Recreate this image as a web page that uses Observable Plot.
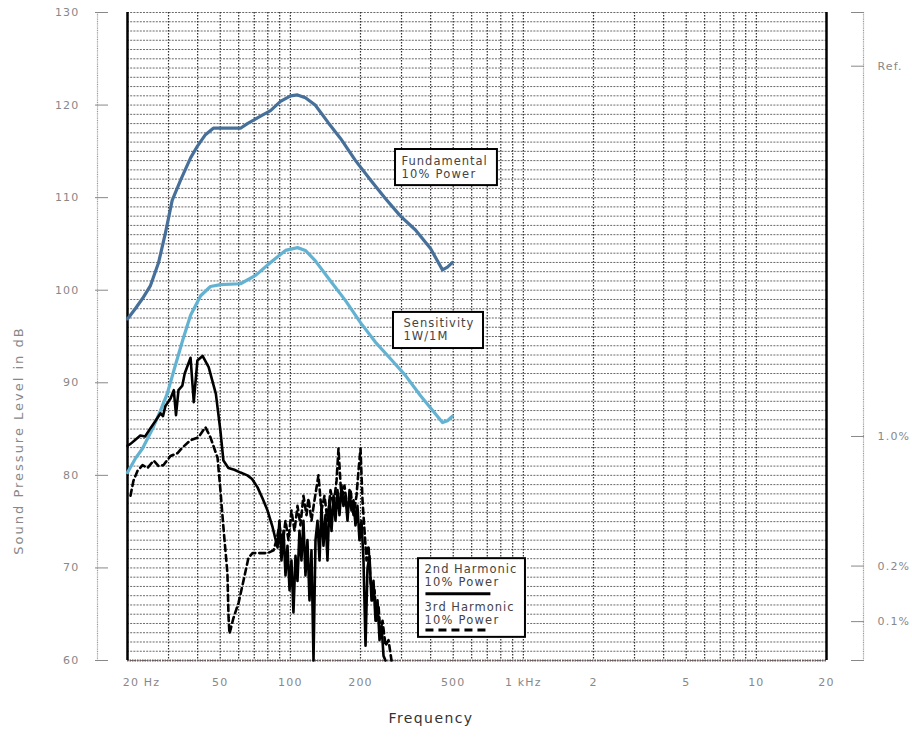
<!DOCTYPE html>
<html><head><meta charset="utf-8">
<script src="https://cdn.jsdelivr.net/npm/d3@7"></script>
<script src="https://cdn.jsdelivr.net/npm/@observablehq/plot@0.6"></script>
<style>body{margin:0;background:#fff;}</style>
</head><body><div id="chart"></div>
<script>
// ---- data (Hz, dB SPL) ----
const fundFreq = [20,21.6,23.2,25.1,27.2,29.1,31.1,33.8,37.3,40.0,43.2,46.7,52.6,61.1,65.4,74.5,82.2,90.7,100.2,107.3,116.0,127.8,145.4,164.2,190.4,220.8,255.7,297,344.4,399.6,449.7,472.4,496.3];
const fundDb   = [96.9,98.0,99.1,100.5,103.0,106.2,109.7,111.9,114.3,115.6,116.8,117.5,117.5,117.5,118.0,118.8,119.4,120.4,121.0,121.1,120.8,120.0,118.1,116.4,114.0,111.9,109.9,108.0,106.5,104.5,102.2,102.5,103.0];

const sensFreq = [20,21.6,23.2,25.8,27.7,29.6,32.1,34.5,37.3,41.2,45.4,50.1,61.1,70.9,82.2,95.3,107.3,116.0,127.8,148.7,172.2,200,231.6,269,311.6,362,408,449.7,472.4,496.3];
const sensDb   = [80.3,81.8,82.9,85.2,87.0,88.8,91.9,94.6,97.3,99.4,100.4,100.6,100.7,101.6,103.0,104.3,104.6,104.3,103.2,101.0,98.9,96.5,94.4,92.6,90.8,88.6,87.0,85.7,85.9,86.4];

const h2Freq = [20,20.6,21.5,22.7,23.8,25.1,26.4,27.7,28.4,29.1,30.6,31.6,32.3,33.1,34.4,35.2,37.3,38.5,39.9,42.0,44.6,47.9,50.1,51.6,54.2,57.5,61.1,65.4,68.5,72.3,76.0,79.8,83.9,88.1,
  89.8,91.6,93.5,95.3,97.2,99.2,101.1,103.1,105.2,107.3,109.4,111.6,113.8,116.1,118.4,120.8,123.2,125.7,128.2,130.8,133.4,136.0,138.7,141.5,144.3,147.2,150.2,153.2,156.2,159.3,162.5,165.8,169.0,172.4,175.9,179.4,183.0,186.7,190.3,194.1,198.0,202.0,206.0,210.2,214.3,218.6,223.0,227.4,232.0,236.6,241.4,246.2,251.1,256.1];
const h2Db   = [83.2,83.4,83.8,84.3,84.2,85.1,85.9,86.7,86.4,87.5,88.3,89.2,86.5,89.2,89.7,91.0,92.7,87.9,92.4,92.9,91.7,88.8,84.8,81.6,80.8,80.6,80.3,80.0,79.6,78.7,77.5,76.2,74.4,72.2,
  75.1,70.8,74.0,69.2,72.4,67.6,70.8,65.2,71.3,68.6,74.0,70.8,75.1,69.2,73.0,66.5,71.9,60.0,73.0,75.1,70.8,76.7,72.4,75.7,70.8,77.3,74.0,77.8,75.1,78.4,75.7,78.9,76.7,77.8,75.1,78.4,76.2,77.3,74.6,76.7,73.0,75.1,70.8,61.6,70.0,71.3,66.5,68.6,64.3,66.5,62.2,63.8,60.5,60.0];

const h3Freq = [20.6,21.2,22.1,23.2,24.4,25.9,27.2,28.5,30.6,32.8,34.4,37.3,40.3,43.2,45.4,48.7,50.1,51.6,53.7,54.3,54.8,57.0,59.9,62.9,66.1,68.8,74.5,79.8,
  84.7,87.2,89.8,92.5,95.3,98.2,101.1,104.2,107.3,110.5,113.8,117.3,119.6,123.2,126.9,132.0,136.0,140.1,144.3,148.7,153.2,157.8,160.9,165.8,170.7,175.9,181.2,186.7,192.2,196.1,200,204.0,208.1,212.3,216.5,220.8,225.2,229.7,234.3,239.0,243.8,248.6,256.1,263.8,271.7];
const h3Db   = [77.8,79.4,80.5,81.1,80.8,81.6,81.0,81.1,82.1,82.4,83.0,83.8,84.1,85.2,84.1,81.9,78.4,74.4,69.4,64.6,62.9,64.6,66.2,68.6,71.1,71.6,71.6,71.6,
  71.9,73.0,74.6,72.4,75.1,73.0,76.2,74.0,76.7,74.6,77.8,75.7,77.5,75.1,77.3,80.0,76.2,77.8,75.1,78.4,76.7,79.4,82.9,77.3,78.9,76.2,78.4,75.7,77.8,80.5,82.9,77.3,74.0,70.8,72.4,68.6,66.5,67.6,64.3,65.9,62.7,64.3,61.6,62.2,60.0];

// ---- ticks ----
const xGridTicks = [20,30,40,50,60,70,80,90,100,200,300,400,500,600,700,800,900,1000,2000,3000,4000,5000,6000,7000,8000,9000,10000];
const yGridTicks = d3.range(60, 131, 1);
const xLabelTicks = [20,50,100,200,500,1000,2000,5000,10000,20000];
const xLabelText  = ["20 Hz","50","100","200","500","1 kHz","2","5","10","20"];
const yLabelTicks = [60,70,80,90,100,110,120,130];
const refTicks  = [130,124.2,84.2,70.2,64.2,60];
const refLabels = ["","Ref.","1.0%","0.2%","0.1%",""];

// ---- annotation boxes (legend-like labels) ----
const boxes = [
  {x1:282.7, x2:774, y1:111.3, y2:115.2},
  {x1:277.1, x2:674.5, y1:93.7, y2:97.6},
  {x1:354.8, x2:1021, y1:62.5, y2:71.0}
];
const boxText = [
  {x:300, y:113.9, t:"Fundamental"},
  {x:300, y:112.5, t:"10% Power"},
  {x:306, y:96.4, t:"Sensitivity"},
  {x:306, y:95.0, t:"1W/1M"},
  {x:376.6, y:69.9, t:"2nd Harmonic"},
  {x:376.6, y:68.4, t:"10% Power"},
  {x:376.6, y:65.7, t:"3rd Harmonic"},
  {x:376.6, y:64.3, t:"10% Power"}
];
const samples = [
  {x1:380, x2:722, y:67.2, dash:null},
  {x1:380, x2:722, y:63.3, dash:"8,5"}
];

const zipXY = (fs, ds) => fs.map((f, i) => ({f, db: ds[i]}));
const fund = zipXY(fundFreq, fundDb);
const sens = zipXY(sensFreq, sensDb);
const h2 = zipXY(h2Freq, h2Db);
const h3 = zipXY(h3Freq, h3Db);
const refMap = new Map(refTicks.map((t, i) => [t, refLabels[i]]));
const xLabels = xLabelTicks.map((t, i) => ({f: t, label: xLabelText[i], first: i === 0}));

const chart = Plot.plot({
  width: 912, height: 737,
  marginLeft: 127, marginRight: 86, marginTop: 12, marginBottom: 77,
  style: {fontFamily: "DejaVu Sans", background: "white", color: "#222"},
  x: {type: "log", domain: [20, 20000], axis: null},
  y: {domain: [60, 130]},
  marks: [
    Plot.ruleY(yGridTicks, {stroke: "#6a6a6a", strokeWidth: 1, strokeDasharray: "2,1.2"}),
    Plot.ruleX(xGridTicks, {stroke: "#2e2e2e", strokeWidth: 1.2, strokeDasharray: "1.6,1.4"}),
    Plot.ruleY([60], {stroke: "#6b5b5b", strokeWidth: 2, strokeDasharray: "1.5,1"}),
    Plot.ruleX([20, 20000], {stroke: "#000", strokeWidth: 2.5}),
    // bracket axis lines
    Plot.ruleX([20], {dx: -30, stroke: "#999", strokeWidth: 1.2, strokeDasharray: "1,0.8"}),
    Plot.ruleX([20000], {dx: 37, stroke: "#999", strokeWidth: 1.2, strokeDasharray: "1,0.8"}),
    // curves
    Plot.line(fund, {x: "f", y: "db", stroke: "#46709a", strokeWidth: 3.2}),
    Plot.line(sens, {x: "f", y: "db", stroke: "#63b2d2", strokeWidth: 3.2}),
    Plot.line(h3, {x: "f", y: "db", stroke: "#000", strokeWidth: 2.6, strokeDasharray: "6,4"}),
    Plot.line(h2, {x: "f", y: "db", stroke: "#000", strokeWidth: 2.6}),
    // annotation boxes
    Plot.rect(boxes, {x1: "x1", x2: "x2", y1: "y1", y2: "y2", fill: "white", stroke: "#000", strokeWidth: 2}),
    Plot.text(boxText, {x: "x", y: "y", text: "t", textAnchor: "start", fontSize: 11.5, fill: "#444"}),
    Plot.link(samples.filter(d => !d.dash), {x1: "x1", x2: "x2", y1: "y", y2: "y", stroke: "#000", strokeWidth: 3}),
    Plot.link(samples.filter(d => d.dash), {x1: "x1", x2: "x2", y1: "y", y2: "y", stroke: "#000", strokeWidth: 3, strokeDasharray: "8,5"}),
    // axes
    Plot.axisY(yLabelTicks, {anchor: "left", tickSize: 13, dx: -19, tickPadding: 16, color: "#888", fontSize: 11, tickFormat: d => String(d)}),
    Plot.axisY(refTicks, {anchor: "right", tickSize: 13, dx: 24, tickPadding: 14, color: "#888", fontSize: 11, tickFormat: d => refMap.get(d)}),
    Plot.text(xLabels.filter(d => !d.first), {x: "f", text: "label", frameAnchor: "bottom", dy: 25, fontSize: 11, fill: "#888"}),
    Plot.text(xLabels.filter(d => d.first), {x: "f", text: "label", frameAnchor: "bottom", dy: 25, dx: 14, fontSize: 11, fill: "#888"}),
    // titles
    Plot.text(["Frequency"], {frameAnchor: "bottom", textAnchor: "middle", dx: -46, dy: 62, fontSize: 14, fill: "#333"}),
    Plot.text(["Sound Pressure Level in dB"], {frameAnchor: "left", textAnchor: "middle", dx: -109, dy: 104, rotate: -90, fontSize: 13, fill: "#888"})
  ]
});
// wider letter spacing to match the reference's broad type
d3.select(chart).selectAll("text").each(function() {
  const t = this.textContent;
  let ls = "1px";
  if (t === "Sound Pressure Level in dB") ls = "2px";
  else if (t === "Frequency") ls = "1.4px";
  else if (/Hz|^\d+$|%|Ref/.test(t)) ls = "1.2px";
  d3.select(this).style("letter-spacing", ls);
});
document.getElementById("chart").append(chart);
</script></body></html>
